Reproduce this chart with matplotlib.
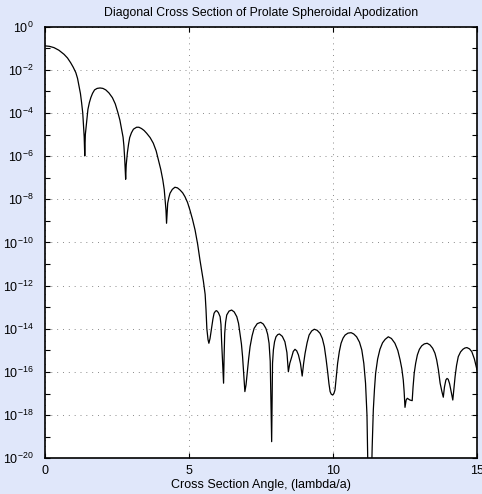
import matplotlib
matplotlib.use('Agg')
import matplotlib.pyplot as plt
from matplotlib.ticker import FixedLocator, NullFormatter, LogFormatterSciNotation
import numpy as np

plt.rcParams['font.family'] = ['Liberation Sans', 'DejaVu Sans']
plt.rcParams['mathtext.fontset'] = 'custom'
plt.rcParams['mathtext.rm'] = 'Liberation Sans'
plt.rcParams['mathtext.it'] = 'Liberation Sans'
plt.rcParams['mathtext.default'] = 'regular'

#----------------------------
#          DATA
#----------------------------
# diagonal cut through the PSF, angle in lambda/a, level as log10(intensity)
# one line per lobe
angle = [0.00, 0.15, 0.31, 0.48, 0.66, 0.78, 0.89, 0.98, 1.07, 1.13, 1.18, 1.23, 1.27, 1.31, 1.33, 1.36, 1.38,
         1.40, 1.43, 1.46, 1.49, 1.54, 1.59, 1.65, 1.72, 1.81, 1.91, 2.01, 2.11, 2.22, 2.34, 2.44, 2.53, 2.60, 2.66, 2.71, 2.74, 2.77, 2.80,
         2.82, 2.86, 2.90, 2.94, 3.00, 3.07, 3.18, 3.26, 3.35, 3.44, 3.53, 3.65, 3.76, 3.86, 3.94, 4.02, 4.09, 4.14, 4.17, 4.20, 4.22,
         4.24, 4.26, 4.30, 4.34, 4.42, 4.51, 4.60, 4.69, 4.78, 4.86, 4.95, 5.03, 5.12, 5.21, 5.30, 5.38, 5.45, 5.50, 5.56, 5.59, 5.62, 5.66, 5.69,
         5.73, 5.79, 5.83, 5.87, 5.92, 5.96, 6.02, 6.08, 6.11, 6.13, 6.20,
         6.22, 6.24, 6.27, 6.31, 6.39, 6.48, 6.57, 6.66, 6.72, 6.77, 6.82, 6.86, 6.90, 6.94,
         6.98, 7.02, 7.07, 7.12, 7.19, 7.26, 7.37, 7.49, 7.58, 7.67, 7.73, 7.78, 7.82, 7.87,
         7.90, 7.93, 7.97, 8.02, 8.08, 8.14, 8.24, 8.33, 8.40, 8.45,
         8.50, 8.57, 8.62, 8.68, 8.74, 8.80, 8.87, 8.93,
         8.98, 9.03, 9.10, 9.17, 9.26, 9.35, 9.45, 9.55, 9.63, 9.70, 9.76, 9.82, 9.86, 9.90, 9.94, 9.99,
         10.03, 10.07, 10.11, 10.16, 10.22, 10.28, 10.35, 10.42, 10.52, 10.63, 10.72, 10.82, 10.92, 11.00, 11.07, 11.13, 11.18, 11.27,
         11.36, 11.40, 11.44, 11.48, 11.55, 11.63, 11.72, 11.81, 11.92, 12.03, 12.15, 12.25, 12.33, 12.39, 12.44, 12.47, 12.50,
         12.54, 12.58, 12.67, 12.75,
         12.78, 12.82, 12.87, 12.93, 13.00, 13.08, 13.17, 13.27, 13.37, 13.46, 13.54, 13.60, 13.66, 13.72, 13.78, 13.83,
         13.87, 13.92, 13.96, 14.00, 14.05, 14.09, 14.13, 14.16,
         14.20, 14.24, 14.29, 14.35, 14.43, 14.51, 14.58, 14.65, 14.74, 14.82, 14.91, 15.00]
log_level = [-0.89, -0.91, -0.97, -1.09, -1.28, -1.45, -1.67, -1.88, -2.13, -2.40, -2.75, -3.10, -3.52, -4.00, -4.45, -5.10, -5.99,
             -5.00, -4.60, -4.15, -3.83, -3.52, -3.29, -3.09, -2.93, -2.86, -2.84, -2.86, -2.93, -3.07, -3.29, -3.58, -3.98, -4.33, -4.75, -5.12, -5.53, -6.20, -7.07,
             -6.40, -5.84, -5.45, -5.14, -4.92, -4.75, -4.66, -4.66, -4.72, -4.81, -4.94, -5.14, -5.40, -5.76, -6.18, -6.62, -7.10, -7.55, -8.03, -8.50, -9.11,
             -8.60, -8.18, -7.92, -7.72, -7.54, -7.44, -7.47, -7.57, -7.70, -7.88, -8.15, -8.49, -8.92, -9.42, -10.08, -10.81, -11.40, -11.80, -12.40, -13.10, -14.00, -14.50, -14.67,
             -14.45, -13.90, -13.55, -13.28, -13.18, -13.16, -13.25, -13.44, -13.80, -14.52, -16.52,
             -15.20, -14.21, -13.70, -13.36, -13.18, -13.13, -13.22, -13.44, -13.75, -14.21, -14.70, -15.29, -16.10, -16.91,
             -16.60, -16.06, -15.40, -14.83, -14.33, -13.98, -13.76, -13.70, -13.78, -13.98, -14.25, -14.67, -15.50, -19.23,
             -15.60, -14.98, -14.60, -14.37, -14.27, -14.24, -14.35, -14.60, -15.10, -15.99,
             -15.60, -15.29, -15.05, -14.95, -15.02, -15.21, -15.60, -16.19,
             -15.60, -15.14, -14.65, -14.29, -14.10, -14.02, -14.07, -14.21, -14.45, -14.83, -15.40, -16.06, -16.55, -16.91, -17.03, -17.07,
             -17.00, -16.83, -16.30, -15.60, -15.05, -14.67, -14.43, -14.29, -14.20, -14.18, -14.24, -14.37, -14.62, -14.98, -15.60, -16.52, -18.00, -25.00,
             -19.50, -17.76, -16.80, -16.06, -15.40, -14.95, -14.65, -14.49, -14.37, -14.45, -14.67, -15.00, -15.44, -15.85, -16.37, -16.90, -17.64,
             -17.30, -17.22, -17.30, -17.33,
             -16.70, -16.06, -15.60, -15.21, -14.95, -14.79, -14.70, -14.67, -14.75, -14.90, -15.13, -15.44, -15.90, -16.52, -16.90, -17.17,
             -16.70, -16.37, -16.30, -16.34, -16.55, -16.83, -17.10, -17.30,
             -16.75, -16.21, -15.70, -15.29, -15.07, -14.95, -14.89, -14.87, -14.93, -15.06, -15.40, -15.90]

xticks = [0, 5, 10, 15]
ydecades_major = list(range(-20, 1, 2))
ydecades_minor = list(range(-19, 0, 2))

intensity = 10.0 ** np.array(log_level)

#----------------------------
#          PLOT
#----------------------------
bg = '#e0e7fa'
fig = plt.figure(figsize=(4.82, 4.94), dpi=100, facecolor=bg)
ax = fig.add_axes([0.0934, 0.0723, 0.8962, 0.8737])
ax.set_facecolor('white')

ax.semilogy(angle, intensity, '-k', lw=0.9)

ax.set_xlim(0, 15)
ax.set_ylim(1e-20, 1e0)
ax.set_xticks(xticks)
ax.set_xticklabels([str(t) for t in xticks])
ax.yaxis.set_major_locator(FixedLocator([10.0 ** d for d in ydecades_major]))
ax.yaxis.set_minor_locator(FixedLocator([10.0 ** d for d in ydecades_minor]))
ax.yaxis.set_major_formatter(LogFormatterSciNotation())
ax.yaxis.set_minor_formatter(NullFormatter())
ax.xaxis.set_minor_locator(FixedLocator([]))

ax.grid(True, which='major', linestyle=(0, (1, 5)), color='#8a8a8a', lw=0.7)
ax.tick_params(which='both', direction='in', top=True, right=True,
               length=3.5, width=0.8, labelsize=9, colors='black')
ax.tick_params(axis='y', pad=8)
ax.tick_params(axis='x', pad=5)
for s in ax.spines.values():
    s.set_linewidth(1.2)

ax.set_title('Diagonal Cross Section of Prolate Spheroidal Apodization',
             fontsize=8.8, pad=8)
ax.set_xlabel('Cross Section Angle, (lambda/a)', fontsize=9, labelpad=1)

plt.savefig('out.png', dpi=100, facecolor=bg)
